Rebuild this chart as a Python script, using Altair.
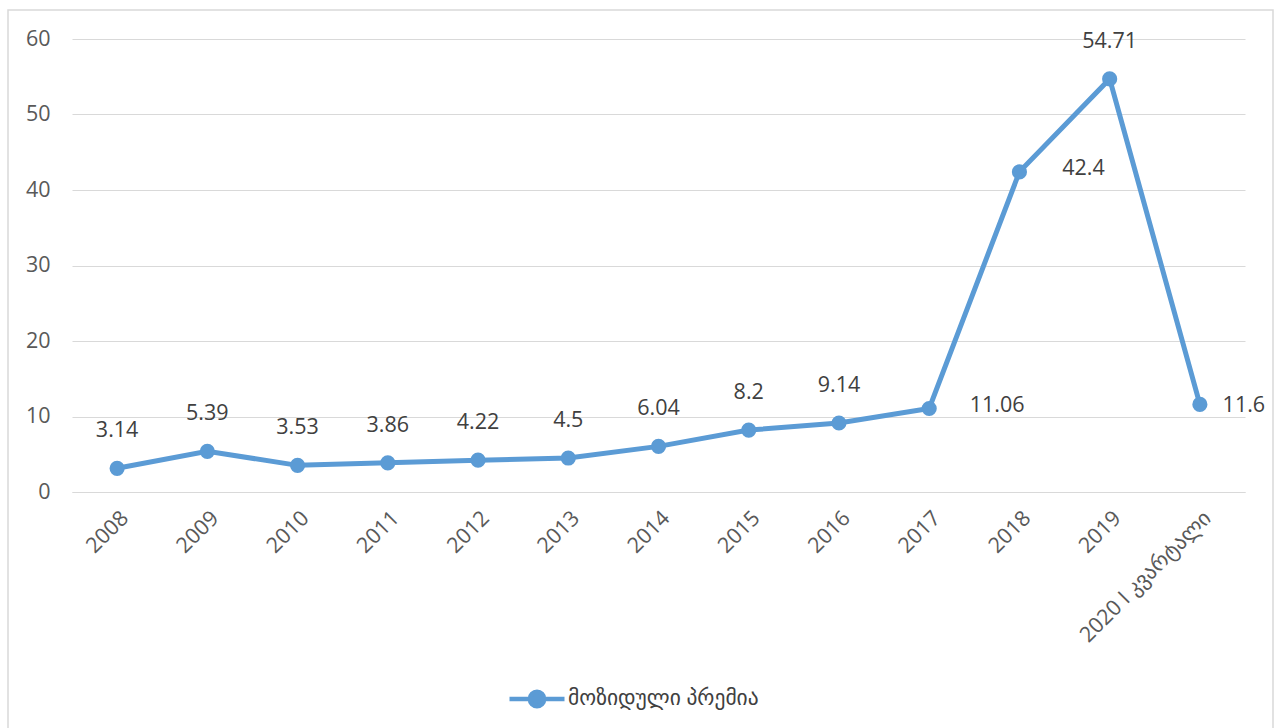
import altair as alt
import pandas as pd

# Attracted premium by year
years = ["2008", "2009", "2010", "2011", "2012", "2013", "2014",
         "2015", "2016", "2017", "2018", "2019", "2020 I კვარტალი"]
premium = [3.14, 5.39, 3.53, 3.86, 4.22, 4.5, 6.04, 8.2, 9.14, 11.06, 42.4, 54.71, 11.6]
series_name = "მოზიდული პრემია"

df = pd.DataFrame({
    "year": years,
    "premium": premium,
    "label": [f"{v:g}" for v in premium],
    "series": series_name,
})

BLUE = "#5b9bd5"
FONT = "Open Sans, DejaVu Sans"
FS = 21.5
W, H = 1173, 453

x = alt.X(
    "year:N", sort=years, title=None,
    scale=alt.Scale(type="point", padding=0.5),
    axis=alt.Axis(labelAngle=-45, labelAlign="right", labelBaseline="top",
                  labelPadding=15, ticks=False, domain=True, domainColor="#d9d9d9",
                  domainWidth=1.2, grid=False, labelFont=FONT, labelFontSize=FS,
                  labelColor="#595959", labelLimit=300),
)
y = alt.Y(
    "premium:Q", title=None,
    scale=alt.Scale(domain=[0, 60], nice=False),
    axis=alt.Axis(values=[0, 10, 20, 30, 40, 50, 60], ticks=False, domain=False,
                  gridColor="#d9d9d9", gridWidth=1.2, labelPadding=22,
                  labelFont=FONT, labelFontSize=FS, labelColor="#595959"),
)
color = alt.Color(
    "series:N", title=None,
    scale=alt.Scale(range=[BLUE]),
    legend=alt.Legend(
        orient="none", legendX=435, legendY=630, direction="horizontal",
        symbolType="M-1,0H1M0.26,0A0.26,0.26,0,1,1,-0.26,0A0.26,0.26,0,1,1,0.26,0Z",
        symbolSize=3025, symbolStrokeWidth=4.5, symbolStrokeColor=BLUE,
        symbolFillColor=BLUE, labelOffset=1,
        labelFont=FONT, labelFontSize=FS, labelColor="#404040", labelLimit=400,
    ),
)

base = alt.Chart(df)

frame = base.mark_rect(fill=None, stroke="#d9d9d9", strokeWidth=1.5).encode(
    x=alt.value(-64), x2=alt.value(1201), y=alt.value(-29), y2=alt.value(705)
).transform_filter(alt.datum.year == "2008")

line = base.mark_line(strokeWidth=5).encode(x=x, y=y, color=color)
points = base.mark_point(filled=True, size=230, opacity=1).encode(x=x, y=y, color=color)

above_years = years[:9] + ["2019"]
labels_above = base.mark_text(font=FONT, fontSize=FS, color="#404040", dy=-37).encode(
    x=x, y=y, text="label:N"
).transform_filter(alt.FieldOneOfPredicate(field="year", oneOf=above_years))

def side_label(year, dx, dy=0):
    return base.mark_text(font=FONT, fontSize=FS, color="#404040", dx=dx, dy=dy).encode(
        x=x, y=y, text="label:N"
    ).transform_filter(alt.datum.year == year)

chart = alt.layer(
    frame, line, points, labels_above,
    side_label("2017", 68, -2),
    side_label("2018", 64, -3),
    side_label("2020 I კვარტალი", 44, 2),
).properties(
    width=W, height=H,
    background="white",
    autosize=alt.AutoSizeParams(type="none"),
    padding={"left": 72, "top": 39, "right": 37, "bottom": 236},
).configure_view(stroke="transparent", strokeWidth=0)

chart.save("out.html", embed_options={"renderer": "svg", "actions": False})
